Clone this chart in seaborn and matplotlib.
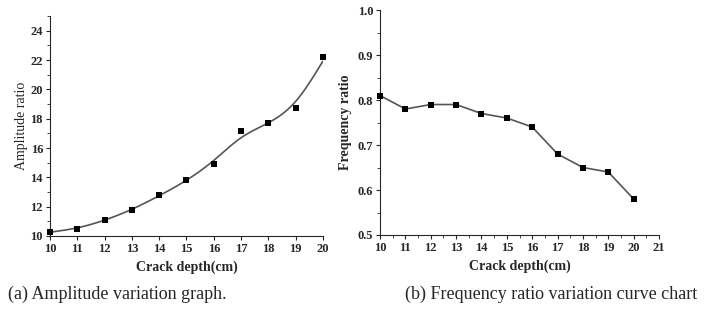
import numpy as np
import pandas as pd
import matplotlib
matplotlib.use("Agg")
import matplotlib.pyplot as plt
import seaborn as sns
from matplotlib.ticker import MultipleLocator

depth = [10, 11, 12, 13, 14, 15, 16, 17, 18, 19, 20]
amplitude = [10.3, 10.5, 11.1, 11.8, 12.8, 13.8, 14.9, 17.15, 17.7, 18.7, 22.2]
freq_ratio = [0.81, 0.78, 0.79, 0.79, 0.77, 0.76, 0.74, 0.68, 0.65, 0.64, 0.58]


### smoothing spline (Reinsch) for the curve in (a)
def smoothSpline(x, y, lam=0.15, num=300):
    x = np.asarray(x, float)
    y = np.asarray(y, float)
    n = len(x)
    h = np.diff(x)
    Q = np.zeros((n, n - 2))
    R = np.zeros((n - 2, n - 2))
    for j in range(1, n - 1):
        Q[j - 1, j - 1] = 1 / h[j - 1]
        Q[j, j - 1] = -(1 / h[j - 1] + 1 / h[j])
        Q[j + 1, j - 1] = 1 / h[j]
        R[j - 1, j - 1] = (h[j - 1] + h[j]) / 3
        if j < n - 2:
            R[j - 1, j] = R[j, j - 1] = h[j] / 6
    K = Q @ np.linalg.solve(R, Q.T)
    g = np.linalg.solve(np.eye(n) + lam * K, y)
    # natural cubic spline through the smoothed values
    A = np.zeros((n, n))
    b = np.zeros(n)
    A[0, 0] = A[-1, -1] = 1
    for i in range(1, n - 1):
        A[i, i - 1] = h[i - 1]
        A[i, i] = 2 * (h[i - 1] + h[i])
        A[i, i + 1] = h[i]
        b[i] = 3 * ((g[i + 1] - g[i]) / h[i] - (g[i] - g[i - 1]) / h[i - 1])
    c = np.linalg.solve(A, b)
    xs = np.linspace(x[0], x[-1], num)
    ys = np.empty_like(xs)
    for k, xv in enumerate(xs):
        i = min(np.searchsorted(x, xv, side="right") - 1, n - 2)
        dx = xv - x[i]
        bi = (g[i + 1] - g[i]) / h[i] - h[i] * (2 * c[i] + c[i + 1]) / 3
        di = (c[i + 1] - c[i]) / (3 * h[i])
        ys[k] = g[i] + bi * dx + c[i] * dx ** 2 + di * dx ** 3
    return xs, ys


sns.set_style("ticks")
plt.rcParams["font.family"] = ["Liberation Serif", "DejaVu Serif"]
plt.rcParams["xtick.major.size"] = 3
plt.rcParams["ytick.major.size"] = 3
plt.rcParams["xtick.minor.size"] = 2
plt.rcParams["ytick.minor.size"] = 2

fig = plt.figure(figsize=(7.09, 3.12), dpi=100)
ax1 = fig.add_axes([0.0705, 0.2436, 0.385, 0.705])
ax2 = fig.add_axes([0.536, 0.2468, 0.3935, 0.721])

df = pd.DataFrame({"depth": depth, "amplitude": amplitude, "freq": freq_ratio})

# (a) amplitude, smooth curve
sx, sy = smoothSpline(depth, amplitude)
sns.lineplot(x=sx, y=sy, ax=ax1, color="#555555", linewidth=1.2)
sns.scatterplot(data=df, x="depth", y="amplitude", ax=ax1, marker="s",
                color="black", s=24, edgecolor="black", linewidth=0, zorder=3, clip_on=False)
ax1.set_xlim(10, 20)
ax1.set_ylim(10, 25)
ax1.set_xticks(range(10, 21))
ax1.set_yticks(range(10, 25, 2))
ax1.yaxis.set_minor_locator(MultipleLocator(1))
ax1.set_xlabel("Crack depth(cm)", fontsize=10, fontweight="bold")
ax1.set_ylabel("Amplitude ratio", fontsize=10, labelpad=2)

# (b) frequency ratio, straight segments
sns.lineplot(data=df, x="depth", y="freq", ax=ax2, color="#555555", linewidth=1.2)
sns.scatterplot(data=df, x="depth", y="freq", ax=ax2, marker="s",
                color="black", s=24, edgecolor="black", linewidth=0, zorder=3, clip_on=False)
ax2.set_xlim(10, 21)
ax2.set_ylim(0.5, 1.0)
ax2.set_xticks(range(10, 22))
ax2.set_yticks(np.arange(0.5, 1.01, 0.1))
ax2.set_yticklabels([f"{v:.1f}" for v in np.arange(0.5, 1.01, 0.1)])
ax2.xaxis.set_minor_locator(MultipleLocator(0.5))
ax2.yaxis.set_minor_locator(MultipleLocator(0.05))
ax2.set_xlabel("Crack depth(cm)", fontsize=10, fontweight="bold")
ax2.set_ylabel("Frequency ratio", fontsize=10, fontweight="bold", labelpad=4)

for ax in (ax1, ax2):
    sns.despine(ax=ax)
    ax.spines["left"].set_linewidth(0.8)
    ax.spines["bottom"].set_linewidth(0.8)
    ax.tick_params(labelsize=9, pad=2)
    for lab in ax.get_xticklabels() + ax.get_yticklabels():
        lab.set_fontweight("bold")

fig.text(0.011, 0.055, "(a) Amplitude variation graph.", fontsize=13, va="center")
fig.text(0.571, 0.055, "(b) Frequency ratio variation curve chart", fontsize=13, va="center")

fig.savefig("out.png", dpi=100)
